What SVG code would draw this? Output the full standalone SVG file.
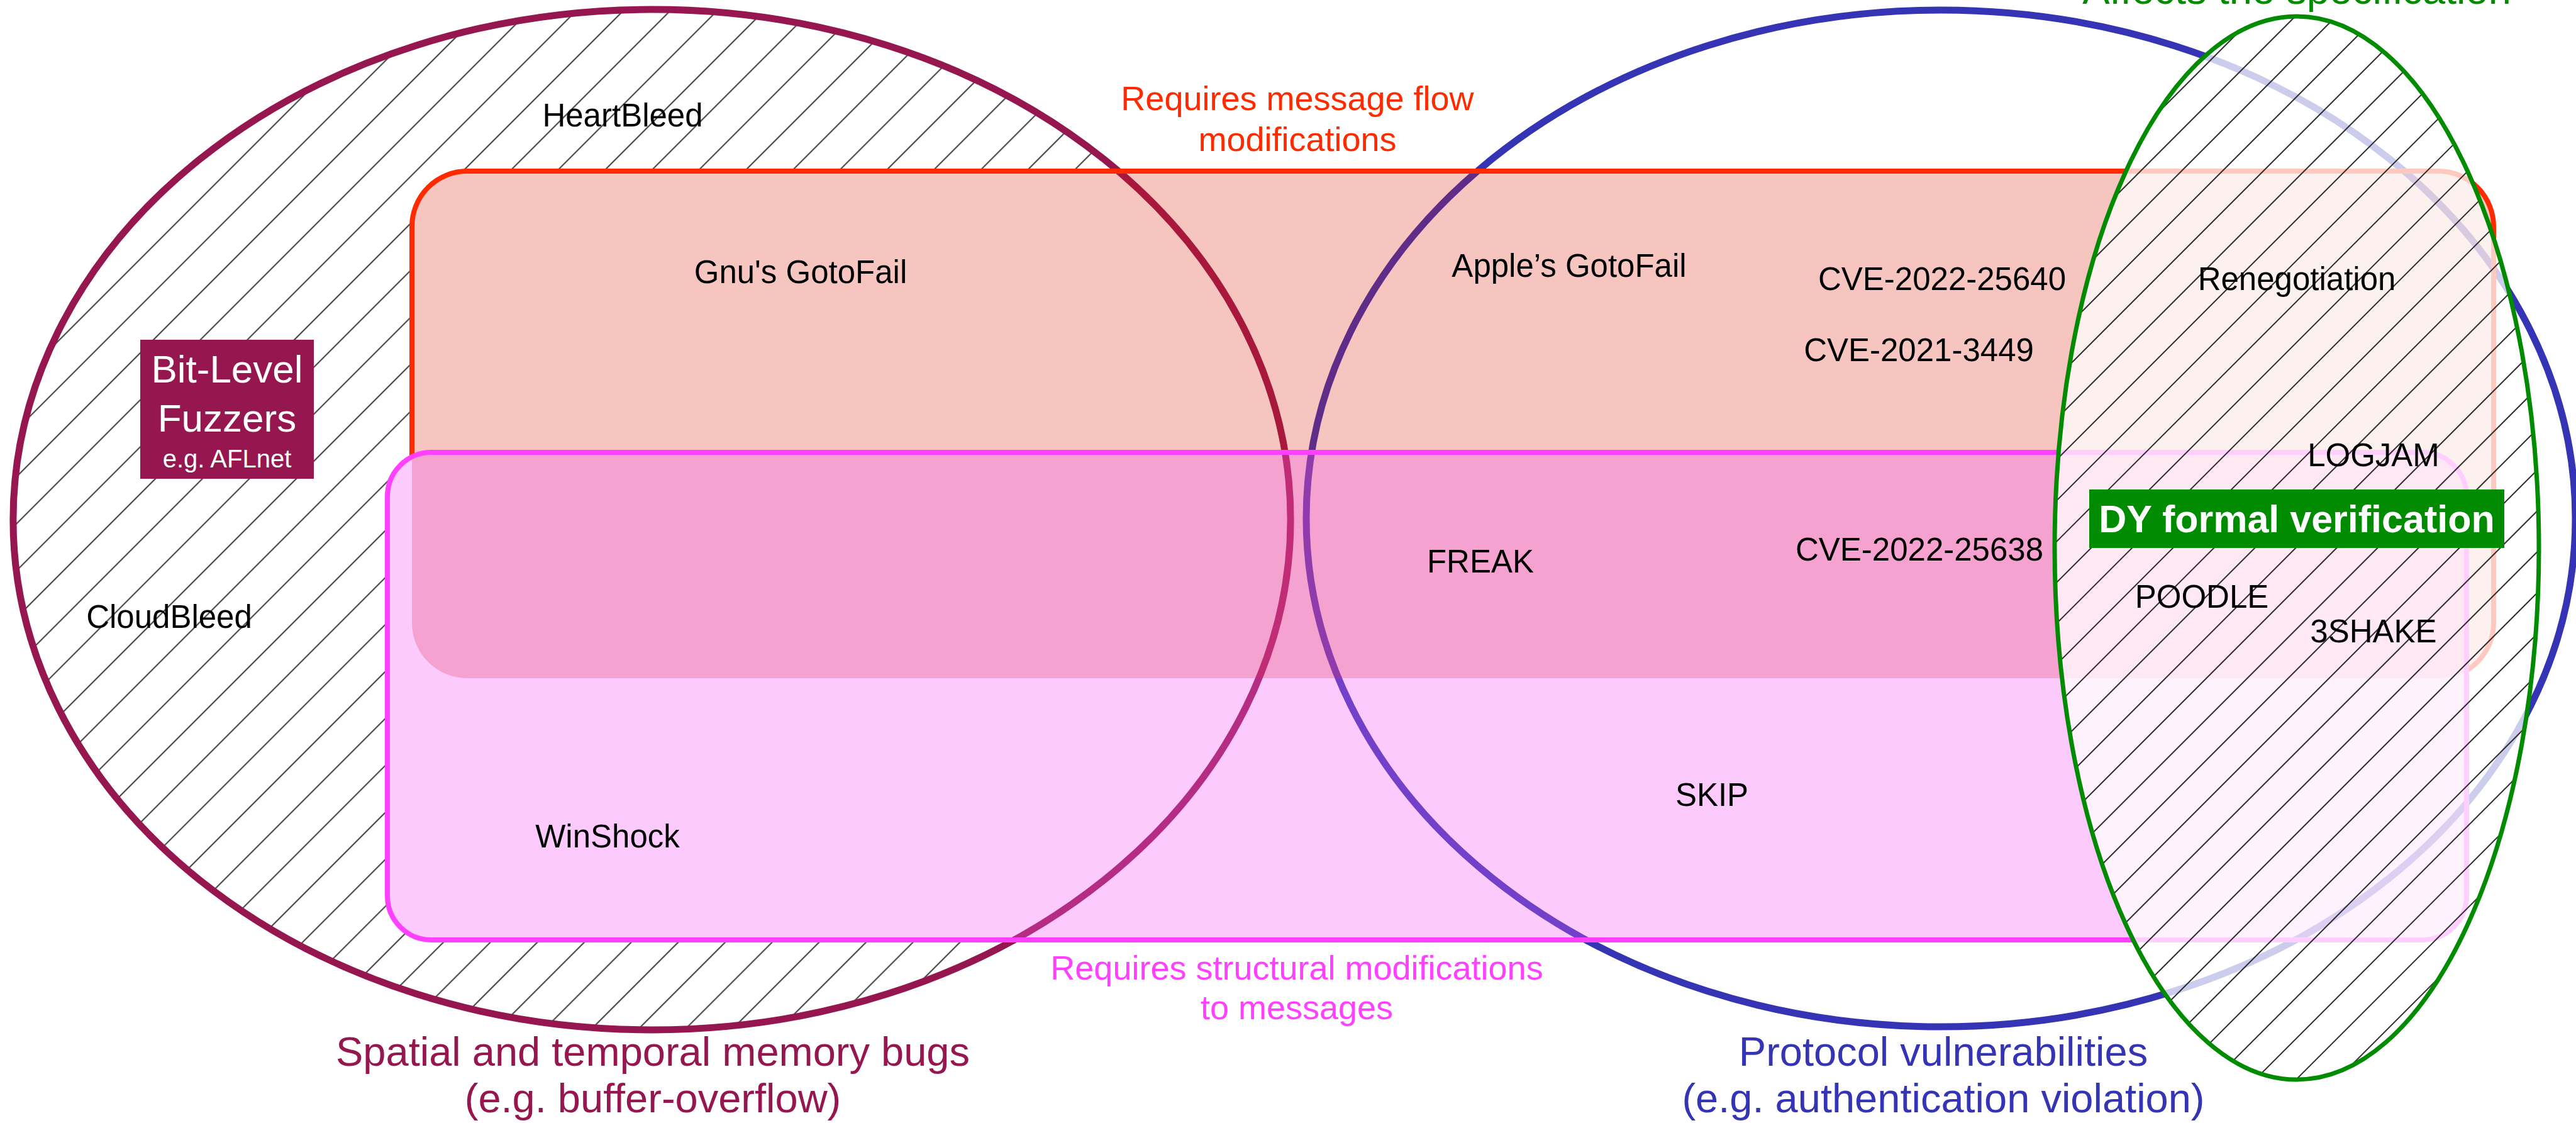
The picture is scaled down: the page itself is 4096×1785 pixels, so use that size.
<svg xmlns="http://www.w3.org/2000/svg" width="4096" height="1785" viewBox="0 0 4096 1785">
  <style>
    text { font-family: "Liberation Sans", Arial, Helvetica, sans-serif; }
    .lbl { font-size: 51px; fill: #000; text-anchor: middle; }
    .cap { font-size: 65px; text-anchor: middle; }
    .mid { font-size: 54px; text-anchor: middle; }
    .mem { fill: #96174F; }
    .proto { fill: #3434B4; }
  </style>
  <defs>
    <!-- diagonal hatching: vertical strokes turned 45deg into "/" lines -->
    <pattern id="hatchL" patternUnits="userSpaceOnUse" width="52.8" height="52.8" patternTransform="rotate(45)">
      <line x1="26.4" y1="-1" x2="26.4" y2="54" stroke="#1e1e1e" stroke-width="1.8"/>
    </pattern>
    <pattern id="hatchG" patternUnits="userSpaceOnUse" width="46" height="46" patternTransform="rotate(45)">
      <line x1="23" y1="-1" x2="23" y2="47" stroke="#2c2c2c" stroke-width="2"/>
    </pattern>
    <!-- everything except the structural-modification box -->
    <clipPath id="outsidePink">
      <path clip-rule="evenodd" d="M-10 -10H4110V1800H-10Z M686 719H3852A70 70 0 0 1 3922 789V1424A70 70 0 0 1 3852 1494H686A70 70 0 0 1 616 1424V789A70 70 0 0 1 686 719Z"/>
    </clipPath>
  </defs>

  <rect width="4096" height="1785" fill="#fff"/>

  <!-- memory-bug set: hatched interior -->
  <g id="memory-set-fill">
    <ellipse cx="1036.5" cy="826" rx="1015.6" ry="811" fill="#fff"/>
    <ellipse cx="1036.5" cy="826" rx="1015.6" ry="811" fill="url(#hatchL)"/>
  </g>

  <!-- plain backing under the two boxes so the hatching stops at their edges -->
  <g id="box-backing" fill="#fff">
    <rect x="655" y="272" width="3310" height="806" rx="88"/>
    <rect x="616" y="719" width="3306" height="775" rx="70"/>
  </g>

  <!-- outlines of the two large sets -->
  <g id="memory-set" fill="none">
    <ellipse cx="1036.5" cy="826" rx="1015.6" ry="811" stroke="#96174F" stroke-width="11"/>
  </g>
  <g id="protocol-set" fill="none">
    <ellipse cx="3086" cy="824" rx="1009" ry="808" stroke="#3434B4" stroke-width="11"/>
  </g>

  <!-- translucent box fills -->
  <g id="message-flow-box">
    <rect x="655" y="272" width="3310" height="806" rx="88" fill="#DF1703" fill-opacity="0.25"/>
  </g>
  <g id="structural-box">
    <rect x="616" y="719" width="3306" height="775" rx="70" fill="#F659F6" fill-opacity="0.32"/>
  </g>
  <g id="box-outlines" fill="none" stroke-width="8">
    <rect x="655" y="272" width="3310" height="806" rx="88" stroke="#FF2A00" clip-path="url(#outsidePink)"/>
    <rect x="616" y="719" width="3306" height="775" rx="70" stroke="#FF40FF"/>
  </g>

  <!-- specification set: veiled, hatched, outlined -->
  <g id="specification-set">
    <ellipse cx="3652" cy="871" rx="385" ry="845" fill="#fff" fill-opacity="0.75"/>
    <ellipse cx="3652" cy="871" rx="385" ry="845" fill="url(#hatchG)"/>
    <ellipse cx="3652" cy="871" rx="385" ry="845" fill="none" stroke="#008B00" stroke-width="7"/>
  </g>

  <!-- set captions -->
  <g id="captions">
    <text class="mid" x="2063" y="175" fill="#FF2A00">Requires message flow</text>
    <text class="mid" x="2063" y="240" fill="#FF2A00">modifications</text>
    <text class="mid" x="2062" y="1557" fill="#FF40FF">Requires structural modifications</text>
    <text class="mid" x="2062" y="1620" fill="#FF40FF">to messages</text>
    <text class="cap mem" x="1038" y="1694">Spatial and temporal memory bugs</text>
    <text class="cap mem" x="1038" y="1768">(e.g. buffer-overflow)</text>
    <text class="cap proto" x="3090" y="1694">Protocol vulnerabilities</text>
    <text class="cap proto" x="3090" y="1768">(e.g. authentication violation)</text>
    <text class="cap" x="3652" y="6" fill="#008B00">Affects the specification</text>
  </g>

  <!-- tool badges -->
  <g id="bit-level-fuzzers">
    <rect x="223" y="540" width="276" height="221" fill="#96174F"/>
    <text x="361" y="608" fill="#fff" font-size="62" text-anchor="middle">Bit-Level</text>
    <text x="361" y="686" fill="#fff" font-size="62" text-anchor="middle">Fuzzers</text>
    <text x="361" y="743" fill="#fff" font-size="40" text-anchor="middle">e.g. AFLnet</text>
  </g>
  <g id="dy-verification">
    <rect x="3322" y="778" width="660" height="93" fill="#008B00"/>
    <text x="3652" y="846" fill="#fff" font-size="61" font-weight="bold" text-anchor="middle">DY formal verification</text>
  </g>

  <!-- vulnerabilities -->
  <g id="vulns">
    <text class="lbl" x="990" y="201">HeartBleed</text>
    <text class="lbl" x="1273" y="450">Gnu's GotoFail</text>
    <text class="lbl" x="269" y="998">CloudBleed</text>
    <text class="lbl" x="966" y="1347">WinShock</text>
    <text class="lbl" x="2495" y="440">Apple’s GotoFail</text>
    <text class="lbl" x="3088" y="461">CVE-2022-25640</text>
    <text class="lbl" x="3051" y="574">CVE-2021-3449</text>
    <text class="lbl" x="2354" y="910">FREAK</text>
    <text class="lbl" x="3052" y="891">CVE-2022-25638</text>
    <text class="lbl" x="2722" y="1281">SKIP</text>
    <text class="lbl" x="3652" y="461">Renegotiation</text>
    <text class="lbl" x="3774" y="741">LOGJAM</text>
    <text class="lbl" x="3501" y="966">POODLE</text>
    <text class="lbl" x="3774" y="1021">3SHAKE</text>
  </g>
</svg>
